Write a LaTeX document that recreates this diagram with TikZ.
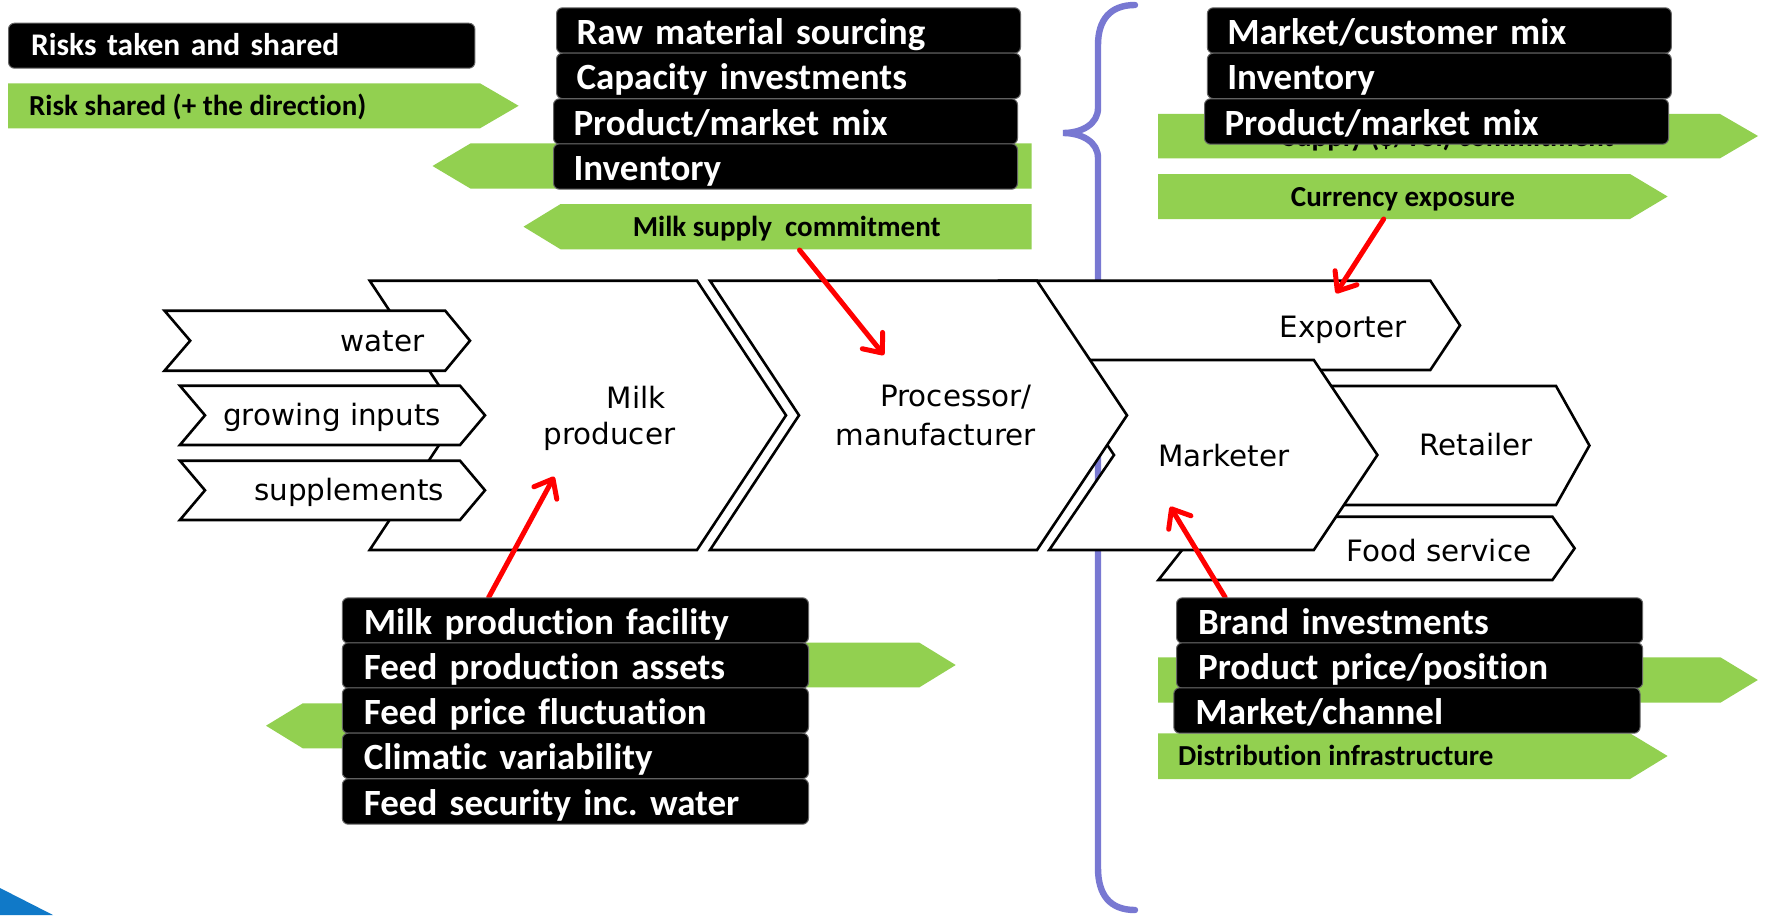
\documentclass[tikz,border=0pt]{standalone}
\usepackage{fontspec}
\setmainfont{Carlito}[Ligatures={NoCommon}]
\newfontfamily\comicf{DejaVu Sans}
\usetikzlibrary{arrows.meta}
\definecolor{pgreen}{RGB}{146,208,80}
\definecolor{bracec}{RGB}{120,120,210}
\definecolor{bluec}{RGB}{16,121,200}
\newcommand\bst{\rule[-4pt]{0pt}{22pt}}
\newcommand\rst{\rule[-4.5pt]{0pt}{19pt}}
\frenchspacing
\tikzset{
  bbox/.style={fill=black, draw=black!60, line width=0.5pt, rounded corners=3pt,
    anchor=north west, text=white, font=\bfseries\fontsize{18.5}{20}\selectfont,
    minimum height=22.7pt, text width=212pt, inner xsep=10pt, inner ysep=0pt, align=left},
  bboxb/.style={bbox, text width=211.5pt, inner xsep=10.8pt},
  gtext/.style={text=black, font=\bfseries\fontsize{14.5}{16}\selectfont, inner sep=0pt},
  ctext/.style={text=black, font=\comicf\fontsize{14.7}{17}\selectfont, inner sep=0pt, anchor=base},
  chev/.style={draw=black, fill=white, line width=1.3pt, line join=miter},
  redarr/.style={draw=red, line width=2.5pt, line cap=round, -{Straight Barb[round,length=8pt,width=13pt]}}
}
\begin{document}
\begin{tikzpicture}[x=0.5pt,y=-0.5pt]
\useasboundingbox (0,0) rectangle (1770,915);
\fill[white] (0,0) rectangle (1770,915);
\fill[bluec] (0,888) -- (53,915) -- (0,915) -- cycle;
% brace
\draw[bracec, line width=3.2pt, line cap=round] (1135,5) .. controls (1110,5) and (1098,20) .. (1098,45) -- (1098,108) .. controls (1098,124) and (1082,133) .. (1063,133) .. controls (1082,133) and (1098,142) .. (1098,158) -- (1098,868) .. controls (1098,895) and (1110,910) .. (1135,910);

% green arrows
\fill[pgreen] (8,83.3) -- (480,83.3) -- (518.6,105.8) -- (480,128.3) -- (8,128.3) -- cycle;
\node[gtext, anchor=base west] (riskshared) at (28.7,115) {Risk shared (+ the direction)};
\fill[pgreen] (432.5,166) -- (470.7,143.3) -- (1031.6,143.3) -- (1031.6,188.7) -- (470.7,188.7) -- cycle;
\fill[pgreen] (523.5,226.7) -- (560.6,204) -- (1031.6,204) -- (1031.6,249.3) -- (560.6,249.3) -- cycle;
\node[gtext, anchor=base] (milksupply) at (786.7,236.7) {Milk supply\ \ commitment};
\fill[pgreen] (1158,114) -- (1720,114) -- (1758,136) -- (1720,158.3) -- (1158,158.3) -- cycle;
\node[gtext, anchor=base] (supply) at (1448,147) {Supply (\$/vol) commitment};
\fill[pgreen] (1158,174) -- (1630,174) -- (1667.6,196.5) -- (1630,219) -- (1158,219) -- cycle;
\node[gtext, anchor=base] (currency) at (1403,206.5) {Currency exposure};
\fill[pgreen] (600,642.7) -- (919.4,642.7) -- (955.7,665) -- (919.4,687.3) -- (600,687.3) -- cycle;
\fill[pgreen] (266,725.7) -- (302.8,703.3) -- (700,703.3) -- (700,748.3) -- (302.8,748.3) -- cycle;
\fill[pgreen] (1158,657.3) -- (1720.4,657.3) -- (1757.8,680) -- (1720.4,702.7) -- (1158,702.7) -- cycle;
\fill[pgreen] (1158,733.3) -- (1630,733.3) -- (1667.6,756) -- (1630,779) -- (1158,779) -- cycle;
\node[gtext, anchor=base west] (distrib) at (1177.7,765) {Distribution infrastructure};

% chevrons (back to front)
\draw[chev] (1000,280.7) -- (1430.3,280.7) -- (1460,325.4) -- (1430.3,370) -- (1000,370) -- (1030,325.4) -- cycle;
\draw[chev] (1250,386) -- (1556,386) -- (1589.4,445.5) -- (1556,505) -- (1250,505) -- (1283,445.5) -- cycle;
\draw[chev] (1158.4,516.7) -- (1552.4,516.7) -- (1574.6,548.3) -- (1552.4,580) -- (1158.4,580) -- (1183.4,548.3) -- cycle;
\draw[chev] (1050.4,360) -- (1313.8,360) -- (1377.4,455) -- (1313.8,550) -- (1049.2,550) -- (1114,455) -- cycle;
\draw[chev] (710,280.7) -- (1037,280.7) -- (1127,415.3) -- (1037,550) -- (710,550) -- (799,415.3) -- cycle;
\draw[chev] (369.7,280.7) -- (697,280.7) -- (786,415.3) -- (697,550) -- (369.7,550) -- (458.7,415.3) -- cycle;
\draw[chev] (164.5,310.7) -- (445.2,310.7) -- (470,340.7) -- (445.2,370.7) -- (164.5,370.7) -- (190.2,340.7) -- cycle;
\draw[chev] (179.9,385.7) -- (460,385.7) -- (485,415.3) -- (460,445) -- (179.9,445) -- (205,415.3) -- cycle;
\draw[chev] (179.9,460.7) -- (460,460.7) -- (485,490.3) -- (460,520) -- (179.9,520) -- (205,490.3) -- cycle;

% chevron texts
\node[ctext] (water) at (382.3,351.7) {water};
\node[ctext] (growing) at (332,425.7) {growing inputs};
\node[ctext] (suppl) at (349,500.7) {supplements};
\node[ctext] (milk1) at (636.2,408.3) {Milk};
\node[ctext] (milk2) at (609.4,444.3) {producer};
\node[ctext] (proc1) at (956,406.7) {Processor/};
\node[ctext] (proc2) at (935.5,445) {manufacturer};
\node[ctext] (exporter) at (1343,337.3) {Exporter};
\node[ctext] (marketer) at (1224,466.7) {Marketer};
\node[ctext] (retailer) at (1476.2,455) {Retailer};
\node[ctext] (food) at (1438.8,561.7) {Food service};

% red arrows
\coordinate (procS) at (799.5,250);   \coordinate (procT) at (884,355);
\coordinate (expS) at (1383.7,219);   \coordinate (expT) at (1336,293.3);
\coordinate (milkS) at (488.7,597.3); \coordinate (milkT) at (554.2,476.7);
\coordinate (mktS) at (1225.2,597.3); \coordinate (mktT) at (1170.2,506.7);
\draw[redarr] (procS) -- (procT);
\draw[redarr] (expS) -- (expT);
\draw[redarr] (milkS) -- (milkT);
\draw[redarr] (mktS) -- (mktT);

% black boxes
\node[bbox, font=\bfseries\fontsize{15.75}{17}\selectfont, minimum height=22.5pt, text width=210.6pt, inner xsep=11.3pt] (risks) at (8,22.7) {\rst Risks taken and shared};

\node[bbox] (raw) at (556,7.3) {\bst Raw material sourcing};
\node[bbox] (capacity) at (556,52.7) {\bst Capacity investments};
\node[bbox] (prodmix1) at (553,98.3) {\bst Product/market mix};
\node[bbox] (inventory1) at (553,143.3) {\bst Inventory};

\node[bbox] (custmix) at (1206.8,7.3) {\bst Market/customer mix};
\node[bbox] (inventory2) at (1206.8,52.7) {\bst Inventory};
\node[bbox] (prodmix2) at (1204,98.3) {\bst Product/market mix};

\node[bboxb] (facility) at (341.8,597.3) {\bst Milk production facility};
\node[bboxb] (feedassets) at (341.8,642.3) {\bst Feed production assets};
\node[bboxb] (feedprice) at (341.8,687.3) {\bst Feed price fluctuation};
\node[bboxb] (climatic) at (341.8,732.7) {\bst Climatic variability};
\node[bboxb] (feedsec) at (341.8,778.3) {\bst Feed security inc. water};

\node[bboxb] (brand) at (1176,597.3) {\bst Brand investments};
\node[bboxb] (price) at (1176,642.3) {\bst Product price/position};
\node[bboxb] (channel) at (1173.3,687.3) {\bst Market/channel};
\end{tikzpicture}
\end{document}
